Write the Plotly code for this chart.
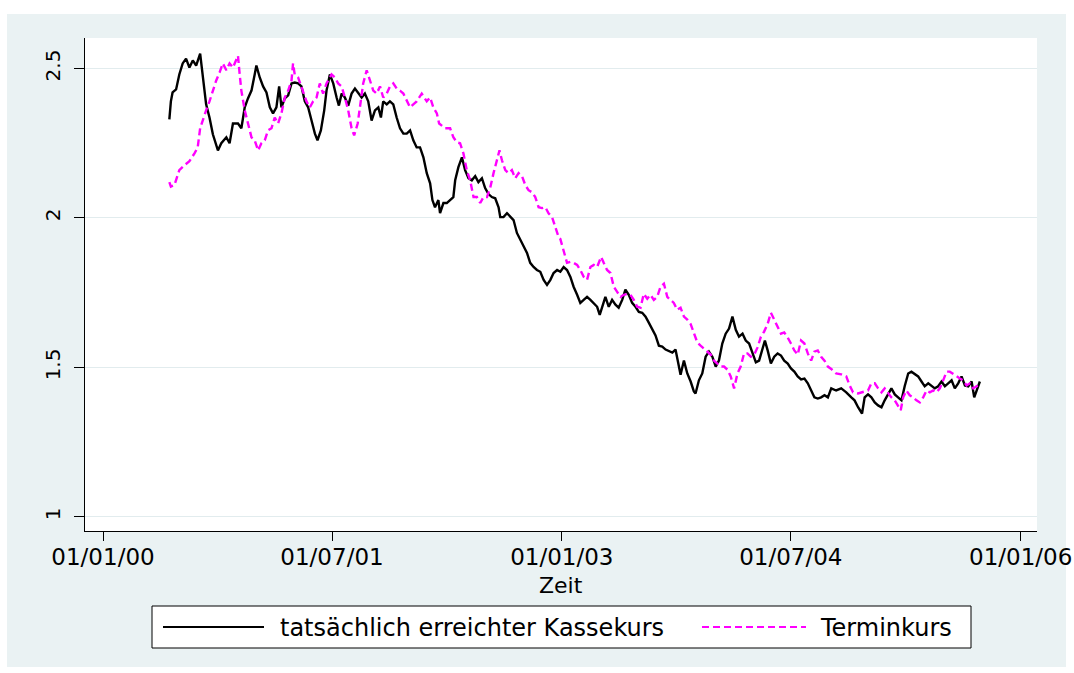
import numpy as np
import pandas as pd
import plotly.graph_objects as go

# ---------------- data (decimal years, exchange-rate values) ----------------
kasse_t = [2000.433, 2000.443, 2000.454, 2000.477, 2000.498, 2000.520, 2000.542, 2000.564, 2000.586, 2000.608,
           2000.634, 2000.651, 2000.673, 2000.695, 2000.717, 2000.750, 2000.772, 2000.805, 2000.826, 2000.848,
           2000.881, 2000.903, 2000.925, 2000.946, 2000.969, 2000.990, 2001.001, 2001.023, 2001.045, 2001.067,
           2001.089, 2001.110, 2001.132, 2001.150, 2001.165, 2001.187, 2001.209, 2001.231, 2001.252, 2001.274,
           2001.296, 2001.318, 2001.340, 2001.362, 2001.384, 2001.401, 2001.423, 2001.445, 2001.460, 2001.482,
           2001.504, 2001.526, 2001.541, 2001.559, 2001.580, 2001.602, 2001.624, 2001.646, 2001.668, 2001.690,
           2001.711, 2001.733, 2001.755, 2001.777, 2001.799, 2001.816, 2001.831, 2001.854, 2001.875, 2001.897,
           2001.919, 2001.941, 2001.963, 2001.985, 2002.007, 2002.028, 2002.050, 2002.072, 2002.094, 2002.116,
           2002.138, 2002.153, 2002.170, 2002.192, 2002.203, 2002.225, 2002.247, 2002.269, 2002.290, 2002.302,
           2002.323, 2002.346, 2002.367, 2002.389, 2002.411, 2002.433, 2002.454, 2002.477, 2002.498, 2002.520,
           2002.542, 2002.564, 2002.586, 2002.597, 2002.618, 2002.641, 2002.662, 2002.684, 2002.706, 2002.728,
           2002.750, 2002.772, 2002.793, 2002.815, 2002.837, 2002.859, 2002.881, 2002.903, 2002.925, 2002.946,
           2002.969, 2002.990, 2003.012, 2003.034, 2003.056, 2003.077, 2003.100, 2003.121, 2003.143, 2003.165,
           2003.187, 2003.209, 2003.231, 2003.248, 2003.264, 2003.285, 2003.307, 2003.329, 2003.351, 2003.372,
           2003.395, 2003.416, 2003.438, 2003.460, 2003.482, 2003.504, 2003.526, 2003.548, 2003.569, 2003.591,
           2003.613, 2003.635, 2003.657, 2003.679, 2003.700, 2003.723, 2003.744, 2003.766, 2003.777, 2003.799,
           2003.821, 2003.843, 2003.864, 2003.875, 2003.897, 2003.919, 2003.941, 2003.963, 2003.985, 2004.007,
           2004.028, 2004.050, 2004.072, 2004.094, 2004.116, 2004.138, 2004.159, 2004.182, 2004.203, 2004.225,
           2004.247, 2004.269, 2004.290, 2004.313, 2004.328, 2004.346, 2004.367, 2004.389, 2004.411, 2004.433,
           2004.454, 2004.477, 2004.498, 2004.520, 2004.542, 2004.564, 2004.586, 2004.608, 2004.630, 2004.651,
           2004.673, 2004.695, 2004.717, 2004.739, 2004.761, 2004.793, 2004.826, 2004.859, 2004.892, 2004.913,
           2004.936, 2004.962, 2004.979, 2005.001, 2005.023, 2005.045, 2005.067, 2005.089, 2005.110, 2005.132,
           2005.154, 2005.176, 2005.198, 2005.220, 2005.241, 2005.264, 2005.285, 2005.307, 2005.329, 2005.351,
           2005.372, 2005.395, 2005.416, 2005.438, 2005.460, 2005.482, 2005.504, 2005.526, 2005.548, 2005.569,
           2005.591, 2005.613, 2005.635, 2005.657, 2005.679, 2005.696, 2005.711, 2005.733]
kasse_v = [2.33, 2.39, 2.42, 2.43, 2.48, 2.517, 2.533, 2.503, 2.527, 2.51,
           2.55, 2.48, 2.38, 2.336, 2.28, 2.226, 2.25, 2.27, 2.25, 2.316,
           2.316, 2.30, 2.37, 2.40, 2.426, 2.48, 2.51, 2.47, 2.44, 2.42,
           2.37, 2.35, 2.37, 2.44, 2.37, 2.40, 2.41, 2.45, 2.453, 2.45,
           2.44, 2.39, 2.37, 2.326, 2.282, 2.26, 2.293, 2.36, 2.426, 2.48,
           2.45, 2.403, 2.376, 2.416, 2.403, 2.376, 2.416, 2.433, 2.416, 2.403,
           2.416, 2.39, 2.326, 2.36, 2.37, 2.336, 2.39, 2.38, 2.39, 2.38,
           2.336, 2.30, 2.282, 2.282, 2.293, 2.26, 2.236, 2.236, 2.203, 2.15,
           2.116, 2.06, 2.036, 2.06, 2.016, 2.05, 2.05, 2.06, 2.07, 2.126,
           2.17, 2.203, 2.16, 2.133, 2.126, 2.14, 2.12, 2.133, 2.10, 2.08,
           2.07, 2.066, 2.036, 2.003, 2.003, 2.016, 2.003, 1.993, 1.95, 1.926,
           1.903, 1.883, 1.85, 1.836, 1.826, 1.82, 1.793, 1.776, 1.793, 1.816,
           1.826, 1.82, 1.836, 1.826, 1.803, 1.77, 1.743, 1.716, 1.726, 1.736,
           1.726, 1.716, 1.703, 1.676, 1.703, 1.736, 1.703, 1.726, 1.71, 1.70,
           1.726, 1.76, 1.743, 1.716, 1.703, 1.686, 1.683, 1.67, 1.65, 1.63,
           1.607, 1.573, 1.57, 1.56, 1.556, 1.55, 1.56, 1.51, 1.476, 1.523,
           1.48, 1.453, 1.42, 1.413, 1.457, 1.48, 1.536, 1.553, 1.536, 1.503,
           1.523, 1.58, 1.613, 1.63, 1.67, 1.626, 1.603, 1.613, 1.59, 1.58,
           1.547, 1.517, 1.523, 1.567, 1.59, 1.557, 1.513, 1.536, 1.547, 1.54,
           1.523, 1.513, 1.497, 1.486, 1.47, 1.46, 1.463, 1.447, 1.423, 1.40,
           1.396, 1.40, 1.407, 1.40, 1.43, 1.423, 1.43, 1.417, 1.40, 1.39,
           1.367, 1.346, 1.40, 1.41, 1.40, 1.383, 1.373, 1.367, 1.39, 1.41,
           1.43, 1.41, 1.40, 1.39, 1.437, 1.48, 1.486, 1.477, 1.47, 1.453,
           1.437, 1.447, 1.44, 1.43, 1.437, 1.453, 1.437, 1.447, 1.457, 1.43,
           1.447, 1.47, 1.44, 1.437, 1.453, 1.40, 1.423, 1.453]

termin_t = [2000.433, 2000.443, 2000.466, 2000.498, 2000.531, 2000.564, 2000.597, 2000.618, 2000.634, 2000.651,
            2000.673, 2000.695, 2000.717, 2000.739, 2000.761, 2000.782, 2000.805, 2000.826, 2000.848, 2000.866,
            2000.881, 2000.892, 2000.903, 2000.925, 2000.946, 2000.969, 2000.990, 2001.012, 2001.034, 2001.056,
            2001.077, 2001.100, 2001.121, 2001.143, 2001.165, 2001.187, 2001.209, 2001.231, 2001.241, 2001.252,
            2001.274, 2001.296, 2001.329, 2001.351, 2001.372, 2001.395, 2001.416, 2001.438, 2001.460, 2001.493,
            2001.515, 2001.536, 2001.559, 2001.580, 2001.602, 2001.624, 2001.641, 2001.664, 2001.685, 2001.700,
            2001.723, 2001.744, 2001.766, 2001.788, 2001.810, 2001.831, 2001.854, 2001.875, 2001.897, 2001.919,
            2001.941, 2001.963, 2001.985, 2002.007, 2002.028, 2002.050, 2002.083, 2002.116, 2002.138, 2002.159,
            2002.182, 2002.197, 2002.236, 2002.269, 2002.290, 2002.313, 2002.334, 2002.356, 2002.378, 2002.400,
            2002.422, 2002.444, 2002.466, 2002.487, 2002.510, 2002.531, 2002.553, 2002.575, 2002.592, 2002.608,
            2002.630, 2002.651, 2002.673, 2002.695, 2002.717, 2002.739, 2002.761, 2002.782, 2002.805, 2002.826,
            2002.848, 2002.870, 2002.892, 2002.913, 2002.936, 2002.957, 2002.979, 2002.990, 2003.012, 2003.034,
            2003.056, 2003.077, 2003.100, 2003.121, 2003.143, 2003.165, 2003.187, 2003.209, 2003.231, 2003.257,
            2003.274, 2003.296, 2003.318, 2003.340, 2003.362, 2003.384, 2003.405, 2003.428, 2003.449, 2003.471,
            2003.493, 2003.515, 2003.536, 2003.559, 2003.580, 2003.602, 2003.624, 2003.646, 2003.668, 2003.690,
            2003.711, 2003.733, 2003.755, 2003.777, 2003.799, 2003.821, 2003.843, 2003.864, 2003.887, 2003.908,
            2003.930, 2003.952, 2003.974, 2003.995, 2004.018, 2004.039, 2004.061, 2004.083, 2004.105, 2004.127,
            2004.149, 2004.170, 2004.192, 2004.214, 2004.236, 2004.258, 2004.280, 2004.302, 2004.323, 2004.346,
            2004.367, 2004.389, 2004.411, 2004.433, 2004.454, 2004.477, 2004.498, 2004.520, 2004.542, 2004.564,
            2004.586, 2004.608, 2004.630, 2004.651, 2004.673, 2004.695, 2004.717, 2004.739, 2004.761, 2004.793,
            2004.826, 2004.859, 2004.881, 2004.903, 2004.936, 2004.969, 2005.001, 2005.023, 2005.045, 2005.067,
            2005.089, 2005.110, 2005.132, 2005.154, 2005.176, 2005.198, 2005.215, 2005.231, 2005.252, 2005.274,
            2005.296, 2005.318, 2005.340, 2005.362, 2005.384, 2005.405, 2005.428, 2005.449, 2005.471, 2005.493,
            2005.515, 2005.536, 2005.559, 2005.580, 2005.602, 2005.624, 2005.646, 2005.668, 2005.690, 2005.711,
            2005.723]
termin_v = [2.12, 2.105, 2.11, 2.16, 2.176, 2.19, 2.216, 2.236, 2.30, 2.33,
            2.36, 2.39, 2.426, 2.46, 2.487, 2.517, 2.494, 2.517, 2.503, 2.527,
            2.543, 2.48, 2.426, 2.36, 2.316, 2.27, 2.26, 2.226, 2.25, 2.26,
            2.293, 2.30, 2.336, 2.316, 2.35, 2.403, 2.426, 2.46, 2.517, 2.48,
            2.47, 2.44, 2.39, 2.37, 2.39, 2.403, 2.45, 2.416, 2.45, 2.48,
            2.47, 2.45, 2.44, 2.403, 2.36, 2.30, 2.276, 2.316, 2.39, 2.45,
            2.494, 2.46, 2.426, 2.416, 2.44, 2.403, 2.416, 2.44, 2.45, 2.433,
            2.426, 2.416, 2.39, 2.37, 2.38, 2.39, 2.416, 2.39, 2.403, 2.37,
            2.35, 2.316, 2.30, 2.30, 2.27, 2.253, 2.25, 2.216, 2.16, 2.126,
            2.07, 2.07, 2.05, 2.07, 2.07, 2.10, 2.15, 2.193, 2.226, 2.193,
            2.16, 2.15, 2.16, 2.133, 2.15, 2.14, 2.11, 2.093, 2.086, 2.07,
            2.036, 2.033, 2.036, 2.016, 2.003, 1.97, 1.936, 1.93, 1.893, 1.85,
            1.853, 1.85, 1.843, 1.826, 1.803, 1.793, 1.836, 1.843, 1.836, 1.87,
            1.85, 1.826, 1.816, 1.77, 1.753, 1.736, 1.743, 1.746, 1.743, 1.726,
            1.703, 1.70, 1.746, 1.73, 1.743, 1.726, 1.736, 1.77, 1.78, 1.736,
            1.726, 1.716, 1.693, 1.70, 1.67, 1.66, 1.645, 1.615, 1.583, 1.573,
            1.563, 1.553, 1.543, 1.523, 1.513, 1.503, 1.503, 1.493, 1.47, 1.43,
            1.48, 1.503, 1.547, 1.547, 1.536, 1.543, 1.567, 1.603, 1.62, 1.646,
            1.683, 1.658, 1.633, 1.613, 1.617, 1.60, 1.58, 1.557, 1.543, 1.59,
            1.58, 1.547, 1.523, 1.553, 1.557, 1.536, 1.523, 1.503, 1.495, 1.48,
            1.477, 1.47, 1.44, 1.417, 1.413, 1.417, 1.423, 1.447, 1.447, 1.43,
            1.417, 1.43, 1.413, 1.40, 1.39, 1.373, 1.357, 1.40, 1.423, 1.407,
            1.40, 1.39, 1.383, 1.40, 1.423, 1.417, 1.423, 1.417, 1.43, 1.457,
            1.486, 1.486, 1.477, 1.47, 1.463, 1.457, 1.44, 1.447, 1.43, 1.437,
            1.44]

tick_dates = ["2000-01-01", "2001-07-01", "2003-01-01", "2004-07-01", "2006-01-01"]
tick_labels = ["01/01/00", "01/07/01", "01/01/03", "01/07/04", "01/01/06"]
y_ticks = [1, 1.5, 2, 2.5]
y_labels = ["1", "1.5", "2", "2.5"]
series_names = ["tatsächlich erreichter Kassekurs", "Terminkurs"]
x_title = "Zeit"


def to_date(y):
    yr = int(np.floor(y))
    start = pd.Timestamp(year=yr, month=1, day=1)
    ndays = (pd.Timestamp(year=yr + 1, month=1, day=1) - start).days
    return start + pd.Timedelta(days=(y - yr) * ndays)


kasse_d = [to_date(t) for t in kasse_t]
termin_d = [to_date(t) for t in termin_t]

FONT = "DejaVu Sans"
GRAY = "#EAF2F3"
MAGENTA = "#FF00FF"
DASH = "7px,4px"

# layout geometry (pixels of the 1074x673 page)
W, H = 1074, 673
L, R, T, B = 85, 1037, 38, 531


def px(xpix):
    return (xpix - L) / (R - L)


def py(ypix):
    return (B - ypix) / (B - T)


fig = go.Figure()
fig.add_trace(go.Scatter(x=kasse_d, y=kasse_v, mode="lines", name=series_names[0],
                         line=dict(color="black", width=2.4), showlegend=False))
fig.add_trace(go.Scatter(x=termin_d, y=termin_v, mode="lines", name=series_names[1],
                         line=dict(color=MAGENTA, width=2.4, dash=DASH), showlegend=False))

shapes = []
# white border strips around the grey graph region
for x0, x1, y0, y1 in [(px(-10), px(7), py(700), py(-10)),
                       (px(-10), px(1090), py(14), py(-10)),
                       (px(1066), px(1090), py(700), py(-10)),
                       (px(-10), px(1090), py(700), py(667))]:
    shapes.append(dict(type="rect", xref="paper", yref="paper", x0=x0, x1=x1, y0=y0, y1=y1,
                       fillcolor="white", line=dict(width=0), layer="below"))
# legend box
shapes.append(dict(type="rect", xref="paper", yref="paper", x0=px(152), x1=px(971), y0=py(648), y1=py(606),
                   fillcolor="white", line=dict(color="black", width=1), layer="above"))
shapes.append(dict(type="line", xref="paper", yref="paper", x0=px(163), x1=px(264), y0=py(627), y1=py(627),
                   line=dict(color="black", width=2.2), layer="above"))
shapes.append(dict(type="line", xref="paper", yref="paper", x0=px(702), x1=px(806), y0=py(627), y1=py(627),
                   line=dict(color=MAGENTA, width=2.2, dash=DASH), layer="above"))

annotations = [
    dict(xref="paper", yref="paper", x=px(278), y=py(628), xanchor="left", yanchor="middle",
         text=series_names[0], showarrow=False, font=dict(family=FONT, size=24, color="black")),
    dict(xref="paper", yref="paper", x=px(818), y=py(628), xanchor="left", yanchor="middle",
         text=series_names[1], showarrow=False, font=dict(family=FONT, size=24, color="black")),
    dict(xref="paper", yref="paper", x=0.5, y=py(585), xanchor="center", yanchor="middle",
         text=x_title, showarrow=False, font=dict(family=FONT, size=22, color="black")),
]

fig.update_layout(
    width=W, height=H, autosize=False,
    margin=dict(l=L, r=W - R, t=T, b=H - B, pad=0, autoexpand=False),
    paper_bgcolor=GRAY,
    plot_bgcolor="white",
    font=dict(family=FONT, color="black"),
    shapes=shapes,
    annotations=annotations,
    showlegend=False,
    xaxis=dict(
        type="date", automargin=False,
        range=["1999-11-19", "2006-02-09"],
        tickvals=tick_dates, ticktext=tick_labels,
        showgrid=False, zeroline=False,
        showline=True, linecolor="black", linewidth=1,
        ticks="outside", ticklen=9, tickcolor="black", tickwidth=1,
        ticklabelstandoff=-4,
        tickfont=dict(family=FONT, size=23, color="black"),
    ),
    yaxis=dict(
        automargin=False,
        range=[0.953, 2.602],
        tickvals=y_ticks, ticktext=y_labels,
        tickangle=-90,
        showgrid=True, gridcolor="#E2ECEE", gridwidth=1,
        zeroline=False,
        showline=True, linecolor="black", linewidth=1,
        ticks="outside", ticklen=10, tickcolor="black", tickwidth=1,
        ticklabelstandoff=6,
        tickfont=dict(family=FONT, size=20, color="black"),
    ),
)

fig.write_html("out.html", config={"displayModeBar": False},
               post_script="document.body.style.margin='0';document.body.style.overflow='hidden';")
